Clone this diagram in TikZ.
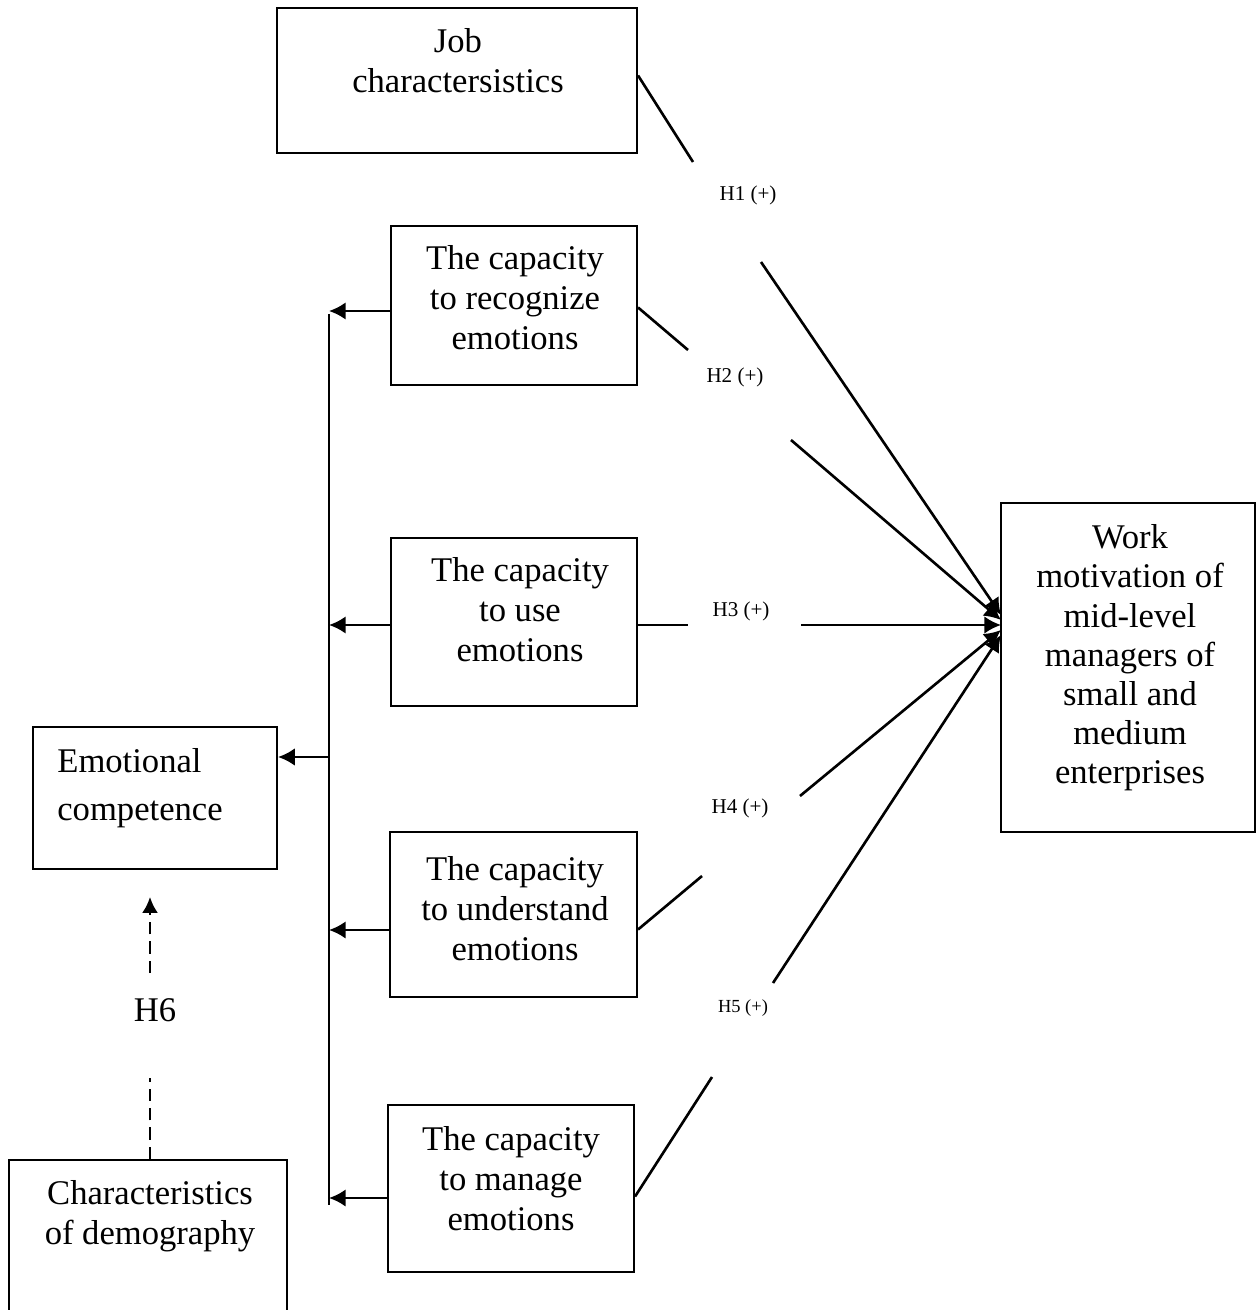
\documentclass[tikz,border=0pt]{standalone}
\usepackage{fontspec}
\setmainfont{Liberation Serif}
\usetikzlibrary{arrows.meta,fit,calc}
\begin{document}
\begin{tikzpicture}[x=0.02cm,y=-0.02cm,
  box/.style={draw, line width=1.2pt, inner sep=0pt},
  txt/.style={font=\fontsize{19.7}{22.7}\selectfont, align=center, inner sep=0pt},
  hyp/.style={font=\fontsize{12}{14}\selectfont, inner sep=0pt},
  conn/.style={line width=1.5pt},
  arr/.style={conn, -{Latex[length=9.5pt,width=10pt]}},
  spine/.style={line width=0.8pt},
  dashline/.style={line width=1.3pt, dash pattern=on 7pt off 4pt},
  dasharr/.style={dashline, -{Latex[length=9pt,width=9pt]}}]
\useasboundingbox (0,0) rectangle (1257,1310);
\begin{scope}
\clip (0,0) rectangle (1257,1310);
% boxes
\node[box, fit={(277,8) (637,153)}] (job) {};
\node[box, fit={(391,226) (637,385)}] (rec) {};
\node[box, fit={(391,538) (637,706)}] (use) {};
\node[box, fit={(390,832) (637,997)}] (und) {};
\node[box, fit={(388,1105) (634,1272)}] (man) {};
\node[box, fit={(33,727) (277,869)}] (emo) {};
\node[box, fit={(9,1160) (287,1340)}] (dem) {};
\node[box, fit={(1001,503) (1255,832)}] (work) {};
\end{scope}
% texts
\node[txt] (jobt) at (458,61) {Job\\charactersistics};
\node[txt] (rect) at (515,298) {The capacity\\to recognize\\emotions};
\node[txt] (uset) at (520,610) {The capacity\\to use\\emotions};
\node[txt] (undt) at (515,909) {The capacity\\to understand\\emotions};
\node[txt] (mant) at (511,1179) {The capacity\\to manage\\emotions};
\node[txt, align=left, anchor=west, font=\fontsize{19.7}{27.3}\selectfont] (emot) at (57,788) {Emotional\\competence};
\node[txt] (demt) at (150,1216) {Characteristics\\of demography};
\node[txt, font=\fontsize{19.7}{22.3}\selectfont] (workt) at (1130,658) {Work\\motivation of\\mid-level\\managers of\\small and\\medium\\enterprises};
% hypothesis labels
\node[hyp] (h1) at (748,195) {H1 (+)};
\node[hyp] (h2) at (735,377) {H2 (+)};
\node[hyp] (h3) at (741,611) {H3 (+)};
\node[hyp] (h4) at (740,808) {H4 (+)};
\node[hyp, font=\fontsize{10.5}{12}\selectfont] (h5) at (743,1008) {H5 (+)};
\node[txt] (h6) at (155,1010) {H6};
% connector coordinates
\coordinate (t1) at (1001,615);
\coordinate (t2) at (1001,620);
\coordinate (t3) at (1001,625);
\coordinate (t4) at (1001,630);
\coordinate (t5) at (1001,635);
\coordinate (h1a) at (693,162);
\coordinate (h1b) at (761,262);
\coordinate (h2a) at (688,350);
\coordinate (h2b) at (791,440);
\coordinate (h3a) at (688,625);
\coordinate (h3b) at (801,625);
\coordinate (h4a) at (702,876);
\coordinate (h4b) at (800,796);
\coordinate (h5a) at (712,1077);
\coordinate (h5b) at (773,983);
% hypotheses H1-H5
\draw[conn] ($(job.east)+(0,-5)$) -- (h1a);
\draw[arr] (h1b) -- (t1);
\draw[conn] ($(rec.east)+(0,2)$) -- (h2a);
\draw[arr] (h2b) -- (t2);
\draw[conn] ($(use.east)+(0,3)$) -- (h3a);
\draw[arr] (h3b) -- (t3);
\draw[conn] ($(und.east)+(0,15)$) -- (h4a);
\draw[arr] (h4b) -- (t4);
\draw[conn] ($(man.east)+(0,8)$) -- (h5a);
\draw[arr] (h5b) -- (t5);
% left spine
\coordinate (v1) at (329,311);
\coordinate (v2) at (329,625);
\coordinate (v3) at (329,930);
\coordinate (v4) at (329,1198);
\coordinate (ve) at (329,757);
\coordinate (vbot) at (329,1205);
\draw[spine] ($(v1)+(0,3)$) -- (vbot);
\draw[arr] (rec.west |- v1) -- (v1);
\draw[arr] (use.west |- v2) -- (v2);
\draw[arr] (und.west |- v3) -- (v3);
\draw[arr] (man.west |- v4) -- (v4);
\draw[arr] (ve) -- (emo.east |- ve);
% H6 dashed
\coordinate (h6a) at (150,1078);
\coordinate (h6b) at (150,973);
\coordinate (h6tip) at (150,897);
\draw[dashline] (h6a |- dem.north) -- (h6a);
\draw[dasharr] (h6b) -- (h6tip);
\end{tikzpicture}
\end{document}
